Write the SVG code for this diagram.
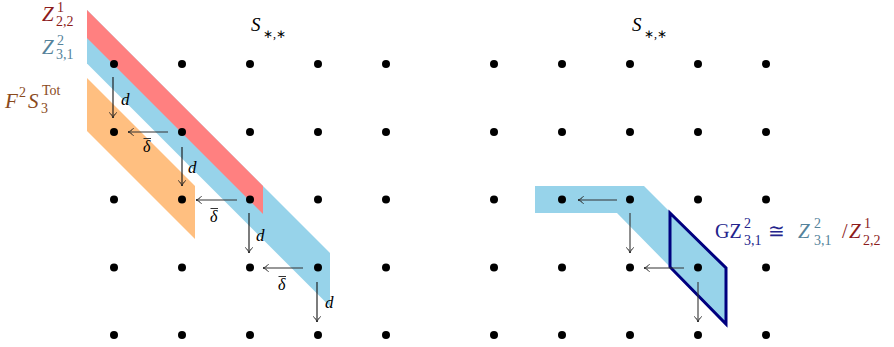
<svg xmlns="http://www.w3.org/2000/svg" width="894" height="347" viewBox="0 0 894 347">
<style>
.dot{fill:#000}
.arr{stroke:#333;stroke-width:1.1;fill:none;marker-end:url(#ah)}
.arrk{stroke:#111;stroke-width:1.1;fill:none;marker-end:url(#ah)}
.m{font-family:"Liberation Serif",serif;font-style:italic}
.r{font-family:"Liberation Serif",serif}
.zr{fill:#8c1c1c}
.zb{fill:#55839b}
.zo{fill:#8a4a1c}
.gz{fill:#24248c}
.bar{stroke:#333;stroke-width:1}
</style>
<defs>
<marker id="ah" viewBox="-7 -5 9 10" markerWidth="9" markerHeight="10" refX="0" refY="0" markerUnits="userSpaceOnUse" orient="auto">
<path d="M-5.5,-3.8 C-3.8,-1.6 -1.6,-0.5 0,0 C-1.6,0.5 -3.8,1.6 -5.5,3.8" stroke="#222" stroke-width="1" fill="none"/>
</marker>
</defs>
<g id="bands-left">
<polygon points="87,10 330,253 330,306.5 87,63.5" fill="#97d3ea"/>
<polygon points="87,10 263,186 263,214 87,38" fill="#ff8080"/>
<polygon points="87,78 195,186 195,239 87,131" fill="#ffbf80"/>
</g>
<g id="bands-right">
<polygon points="535,186 644,186 726,268 726,324 617,213 535,213" fill="#97d3ea"/>
<polygon id="gz-box" points="670,213 726,268 726,324 670,267" fill="none" stroke="#00007f" stroke-width="3"/>
</g>
<g id="dots">
<g id="grid-left">
<circle class="dot" cx="114" cy="64" r="4"/><circle class="dot" cx="182" cy="64" r="4"/><circle class="dot" cx="250" cy="64" r="4"/><circle class="dot" cx="318" cy="64" r="4"/><circle class="dot" cx="386" cy="64" r="4"/>
<circle class="dot" cx="114" cy="132" r="4"/><circle class="dot" cx="182" cy="132" r="4"/><circle class="dot" cx="250" cy="132" r="4"/><circle class="dot" cx="318" cy="132" r="4"/><circle class="dot" cx="386" cy="132" r="4"/>
<circle class="dot" cx="114" cy="199.5" r="4"/><circle class="dot" cx="182" cy="199.5" r="4"/><circle class="dot" cx="250" cy="199.5" r="4"/><circle class="dot" cx="318" cy="199.5" r="4"/><circle class="dot" cx="386" cy="199.5" r="4"/>
<circle class="dot" cx="114" cy="267.5" r="4"/><circle class="dot" cx="182" cy="267.5" r="4"/><circle class="dot" cx="250" cy="267.5" r="4"/><circle class="dot" cx="318" cy="267.5" r="4"/><circle class="dot" cx="386" cy="267.5" r="4"/>
<circle class="dot" cx="114" cy="335" r="4"/><circle class="dot" cx="182" cy="335" r="4"/><circle class="dot" cx="250" cy="335" r="4"/><circle class="dot" cx="318" cy="335" r="4"/><circle class="dot" cx="386" cy="335" r="4"/>
</g>
<g id="grid-right">
<circle class="dot" cx="494" cy="64" r="4"/><circle class="dot" cx="562" cy="64" r="4"/><circle class="dot" cx="630" cy="64" r="4"/><circle class="dot" cx="698" cy="64" r="4"/><circle class="dot" cx="766" cy="64" r="4"/>
<circle class="dot" cx="494" cy="132" r="4"/><circle class="dot" cx="562" cy="132" r="4"/><circle class="dot" cx="630" cy="132" r="4"/><circle class="dot" cx="698" cy="132" r="4"/><circle class="dot" cx="766" cy="132" r="4"/>
<circle class="dot" cx="494" cy="199.5" r="4"/><circle class="dot" cx="562" cy="199.5" r="4"/><circle class="dot" cx="630" cy="199.5" r="4"/><circle class="dot" cx="698" cy="199.5" r="4"/><circle class="dot" cx="766" cy="199.5" r="4"/>
<circle class="dot" cx="494" cy="267.5" r="4"/><circle class="dot" cx="562" cy="267.5" r="4"/><circle class="dot" cx="630" cy="267.5" r="4"/><circle class="dot" cx="698" cy="267.5" r="4"/><circle class="dot" cx="766" cy="267.5" r="4"/>
<circle class="dot" cx="494" cy="335" r="4"/><circle class="dot" cx="562" cy="335" r="4"/><circle class="dot" cx="630" cy="335" r="4"/><circle class="dot" cx="698" cy="335" r="4"/><circle class="dot" cx="766" cy="335" r="4"/>
</g>
</g>
<g id="connectors">
<line class="arrk" x1="113" y1="77" x2="113" y2="118"/>
<line class="arr" x1="168" y1="132" x2="128" y2="132"/>
<line class="arrk" x1="182" y1="147" x2="182" y2="186"/>
<line class="arr" x1="237" y1="200" x2="196" y2="200"/>
<line class="arrk" x1="249" y1="213" x2="249" y2="253"/>
<line class="arr" x1="303" y1="268" x2="263" y2="268"/>
<line class="arrk" x1="317" y1="282" x2="317" y2="322"/>
<line class="arr" x1="617" y1="200" x2="578" y2="200"/>
<line class="arr" x1="630" y1="213" x2="630" y2="253"/>
<line class="arr" x1="684" y1="268" x2="644" y2="268"/>
<line class="arr" x1="698" y1="282" x2="698" y2="322"/>
</g>
<g id="edge-labels">
<text class="m" x="121" y="105" font-size="17">d</text>
<text class="m" x="188" y="173" font-size="17">d</text>
<text class="m" x="256" y="241" font-size="17">d</text>
<text class="m" x="325" y="308" font-size="17">d</text>
<text class="m" x="143" y="152" font-size="16">δ</text><line class="bar" x1="143.5" y1="138.5" x2="151" y2="138.5"/>
<text class="m" x="210" y="222" font-size="16">δ</text><line class="bar" x1="210.5" y1="208.5" x2="218" y2="208.5"/>
<text class="m" x="278" y="290" font-size="16">δ</text><line class="bar" x1="278.5" y1="276.5" x2="286" y2="276.5"/>
</g>
<g id="title-left">
<text class="m" x="251" y="31" font-size="19">S</text><text class="r" x="263" y="38" font-size="12">∗,∗</text>
</g>
<g id="title-right">
<text class="m" x="632" y="31" font-size="19">S</text><text class="r" x="644" y="38" font-size="12">∗,∗</text>
</g>
<g id="label-z122" class="zr">
<text class="m" x="42" y="21" font-size="21">Z</text>
<text class="r" x="57" y="12" font-size="14">1</text>
<text class="r" x="56" y="26" font-size="14">2,2</text>
</g>
<g id="label-z231" class="zb">
<text class="m" x="42" y="54" font-size="21">Z</text>
<text class="r" x="57" y="45" font-size="14">2</text>
<text class="r" x="56" y="59" font-size="14">3,1</text>
</g>
<g id="label-f2s3" class="zo">
<text class="m" x="5" y="108" font-size="21">F</text>
<text class="r" x="19" y="97" font-size="14">2</text>
<text class="m" x="28" y="108" font-size="21">S</text>
<text class="r" x="42" y="95" font-size="14">Tot</text>
<text class="r" x="41" y="113" font-size="14">3</text>
</g>
<g id="label-gz">
<text class="r gz" x="715" y="238" font-size="20">GZ</text>
<text class="r gz" x="744" y="228" font-size="14">2</text>
<text class="r gz" x="744" y="245" font-size="14">3,1</text>
<text class="r gz" x="768" y="238" font-size="20">≅</text>
<text class="m zb" x="798" y="238" font-size="21">Z</text>
<text class="r zb" x="814" y="228" font-size="14">2</text>
<text class="r zb" x="814" y="245" font-size="14">3,1</text>
<text class="r zr" x="842" y="238" font-size="20">/</text>
<text class="m zr" x="849" y="238" font-size="21">Z</text>
<text class="r zr" x="864" y="228" font-size="14">1</text>
<text class="r zr" x="863" y="245" font-size="14">2,2</text>
</g>
</svg>
